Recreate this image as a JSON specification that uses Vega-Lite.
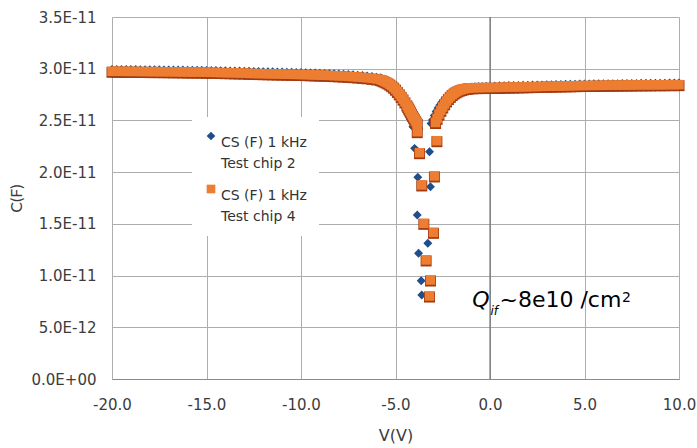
{
"$schema":"https://vega.github.io/schema/vega-lite/v6.json",
"width":567,"height":362,
"autosize":{"type":"none"},
"padding":{"left":112,"top":17,"right":18,"bottom":69},
"background":"white",
"config":{"view":{"stroke":null},"font":"DejaVu Sans","style":{"guide-label":{"lineHeight":21}}},
"data":{"values":[
{"s":"chip2","v":-20,"c":2.993e-11},{"s":"chip2","v":-19.75,"c":2.993e-11},{"s":"chip2","v":-19.5,"c":2.993e-11},{"s":"chip2","v":-19.25,"c":2.992e-11},{"s":"chip2","v":-19,"c":2.992e-11},{"s":"chip2","v":-18.75,"c":2.992e-11},{"s":"chip2","v":-18.5,"c":2.991e-11},{"s":"chip2","v":-18.25,"c":2.991e-11},{"s":"chip2","v":-18,"c":2.99e-11},{"s":"chip2","v":-17.75,"c":2.99e-11},{"s":"chip2","v":-17.5,"c":2.99e-11},{"s":"chip2","v":-17.25,"c":2.989e-11},{"s":"chip2","v":-17,"c":2.989e-11},{"s":"chip2","v":-16.75,"c":2.988e-11},{"s":"chip2","v":-16.5,"c":2.988e-11},{"s":"chip2","v":-16.25,"c":2.987e-11},{"s":"chip2","v":-16,"c":2.986e-11},{"s":"chip2","v":-15.75,"c":2.986e-11},{"s":"chip2","v":-15.5,"c":2.985e-11},{"s":"chip2","v":-15.25,"c":2.985e-11},{"s":"chip2","v":-15,"c":2.984e-11},{"s":"chip2","v":-14.75,"c":2.983e-11},{"s":"chip2","v":-14.5,"c":2.982e-11},{"s":"chip2","v":-14.25,"c":2.981e-11},{"s":"chip2","v":-14,"c":2.98e-11},{"s":"chip2","v":-13.75,"c":2.979e-11},{"s":"chip2","v":-13.5,"c":2.978e-11},{"s":"chip2","v":-13.25,"c":2.977e-11},{"s":"chip2","v":-13,"c":2.976e-11},{"s":"chip2","v":-12.75,"c":2.975e-11},{"s":"chip2","v":-12.5,"c":2.974e-11},{"s":"chip2","v":-12.25,"c":2.973e-11},{"s":"chip2","v":-12,"c":2.972e-11},{"s":"chip2","v":-11.75,"c":2.971e-11},{"s":"chip2","v":-11.5,"c":2.97e-11},{"s":"chip2","v":-11.25,"c":2.969e-11},{"s":"chip2","v":-11,"c":2.968e-11},{"s":"chip2","v":-10.75,"c":2.967e-11},{"s":"chip2","v":-10.5,"c":2.965e-11},{"s":"chip2","v":-10.25,"c":2.964e-11},{"s":"chip2","v":-10,"c":2.963e-11},{"s":"chip2","v":-9.75,"c":2.962e-11},{"s":"chip2","v":-9.5,"c":2.96e-11},{"s":"chip2","v":-9.25,"c":2.959e-11},{"s":"chip2","v":-9,"c":2.957e-11},{"s":"chip2","v":-8.75,"c":2.955e-11},{"s":"chip2","v":-8.5,"c":2.953e-11},{"s":"chip2","v":-8.25,"c":2.951e-11},{"s":"chip2","v":-8,"c":2.949e-11},{"s":"chip2","v":-7.75,"c":2.947e-11},{"s":"chip2","v":-7.5,"c":2.944e-11},{"s":"chip2","v":-7.25,"c":2.941e-11},{"s":"chip2","v":-7,"c":2.938e-11},{"s":"chip2","v":-6.75,"c":2.934e-11},{"s":"chip2","v":-6.5,"c":2.93e-11},{"s":"chip2","v":-6.25,"c":2.925e-11},{"s":"chip2","v":-6,"c":2.918e-11},
{"s":"chip2","v":-5.8,"c":2.912e-11},{"s":"chip2","v":-5.7,"c":2.904e-11},{"s":"chip2","v":-5.6,"c":2.894e-11},{"s":"chip2","v":-5.5,"c":2.883e-11},{"s":"chip2","v":-5.4,"c":2.87e-11},{"s":"chip2","v":-5.3,"c":2.855e-11},{"s":"chip2","v":-5.2,"c":2.838e-11},{"s":"chip2","v":-5.1,"c":2.818e-11},{"s":"chip2","v":-5.0,"c":2.795e-11},{"s":"chip2","v":-4.9,"c":2.77e-11},{"s":"chip2","v":-4.8,"c":2.743e-11},{"s":"chip2","v":-4.7,"c":2.714e-11},{"s":"chip2","v":-4.6,"c":2.683e-11},{"s":"chip2","v":-4.55,"c":2.666e-11},{"s":"chip2","v":-4.5,"c":2.649e-11},{"s":"chip2","v":-4.45,"c":2.631e-11},{"s":"chip2","v":-4.4,"c":2.612e-11},{"s":"chip2","v":-4.35,"c":2.593e-11},{"s":"chip2","v":-4.3,"c":2.573e-11},{"s":"chip2","v":-4.25,"c":2.553e-11},{"s":"chip2","v":-4.2,"c":2.532e-11},{"s":"chip2","v":-4.15,"c":2.511e-11},{"s":"chip2","v":-4.1,"c":2.49e-11},
{"s":"chip2","v":-4.08,"c":2.439e-11},{"s":"chip2","v":-3.99,"c":2.23e-11},{"s":"chip2","v":-3.82,"c":1.95e-11},{"s":"chip2","v":-3.85,"c":1.586e-11},{"s":"chip2","v":-3.78,"c":1.215e-11},{"s":"chip2","v":-3.64,"c":0.95e-11},{"s":"chip2","v":-3.61,"c":0.812e-11},{"s":"chip2","v":-3.29,"c":1.312e-11},{"s":"chip2","v":-3.15,"c":1.859e-11},{"s":"chip2","v":-3.2,"c":2.198e-11},
{"s":"chip2","v":-3.12,"c":2.47e-11},{"s":"chip2","v":-3.05,"c":2.505e-11},{"s":"chip2","v":-2.95,"c":2.548e-11},{"s":"chip2","v":-2.85,"c":2.587e-11},{"s":"chip2","v":-2.75,"c":2.62e-11},{"s":"chip2","v":-2.65,"c":2.65e-11},{"s":"chip2","v":-2.55,"c":2.676e-11},{"s":"chip2","v":-2.45,"c":2.698e-11},{"s":"chip2","v":-2.35,"c":2.718e-11},{"s":"chip2","v":-2.25,"c":2.735e-11},{"s":"chip2","v":-2.15,"c":2.75e-11},{"s":"chip2","v":-2.05,"c":2.763e-11},{"s":"chip2","v":-1.95,"c":2.774e-11},{"s":"chip2","v":-1.85,"c":2.783e-11},{"s":"chip2","v":-1.75,"c":2.791e-11},{"s":"chip2","v":-1.65,"c":2.798e-11},{"s":"chip2","v":-1.55,"c":2.804e-11},{"s":"chip2","v":-1.45,"c":2.809e-11},{"s":"chip2","v":-1.35,"c":2.813e-11},{"s":"chip2","v":-1.2,"c":2.818e-11},{"s":"chip2","v":-1.0,"c":2.823e-11},{"s":"chip2","v":-0.8,"c":2.826e-11},{"s":"chip2","v":-0.6,"c":2.828e-11},{"s":"chip2","v":-0.4,"c":2.829e-11},{"s":"chip2","v":-0.2,"c":2.83e-11},{"s":"chip2","v":0,"c":2.831e-11},
{"s":"chip2","v":0.25,"c":2.833e-11},{"s":"chip2","v":0.5,"c":2.835e-11},{"s":"chip2","v":0.75,"c":2.836e-11},{"s":"chip2","v":1,"c":2.837e-11},{"s":"chip2","v":1.25,"c":2.838e-11},{"s":"chip2","v":1.5,"c":2.839e-11},{"s":"chip2","v":1.75,"c":2.84e-11},{"s":"chip2","v":2,"c":2.841e-11},{"s":"chip2","v":2.25,"c":2.842e-11},{"s":"chip2","v":2.5,"c":2.843e-11},{"s":"chip2","v":2.75,"c":2.844e-11},{"s":"chip2","v":3,"c":2.845e-11},{"s":"chip2","v":3.25,"c":2.846e-11},{"s":"chip2","v":3.5,"c":2.847e-11},{"s":"chip2","v":3.75,"c":2.848e-11},{"s":"chip2","v":4,"c":2.849e-11},{"s":"chip2","v":4.25,"c":2.85e-11},{"s":"chip2","v":4.5,"c":2.851e-11},{"s":"chip2","v":4.75,"c":2.852e-11},{"s":"chip2","v":5,"c":2.853e-11},{"s":"chip2","v":5.25,"c":2.853e-11},{"s":"chip2","v":5.5,"c":2.854e-11},{"s":"chip2","v":5.75,"c":2.854e-11},{"s":"chip2","v":6,"c":2.855e-11},{"s":"chip2","v":6.25,"c":2.855e-11},{"s":"chip2","v":6.5,"c":2.856e-11},{"s":"chip2","v":6.75,"c":2.856e-11},{"s":"chip2","v":7,"c":2.857e-11},{"s":"chip2","v":7.25,"c":2.857e-11},{"s":"chip2","v":7.5,"c":2.858e-11},{"s":"chip2","v":7.75,"c":2.858e-11},{"s":"chip2","v":8,"c":2.859e-11},{"s":"chip2","v":8.25,"c":2.859e-11},{"s":"chip2","v":8.5,"c":2.859e-11},{"s":"chip2","v":8.75,"c":2.86e-11},{"s":"chip2","v":9,"c":2.86e-11},{"s":"chip2","v":9.25,"c":2.86e-11},{"s":"chip2","v":9.5,"c":2.861e-11},{"s":"chip2","v":9.75,"c":2.861e-11},{"s":"chip2","v":10,"c":2.861e-11},
{"s":"chip4","v":-20,"c":2.975e-11},{"s":"chip4","v":-19.75,"c":2.975e-11},{"s":"chip4","v":-19.5,"c":2.975e-11},{"s":"chip4","v":-19.25,"c":2.974e-11},{"s":"chip4","v":-19,"c":2.974e-11},{"s":"chip4","v":-18.75,"c":2.974e-11},{"s":"chip4","v":-18.5,"c":2.973e-11},{"s":"chip4","v":-18.25,"c":2.973e-11},{"s":"chip4","v":-18,"c":2.972e-11},{"s":"chip4","v":-17.75,"c":2.972e-11},{"s":"chip4","v":-17.5,"c":2.972e-11},{"s":"chip4","v":-17.25,"c":2.971e-11},{"s":"chip4","v":-17,"c":2.971e-11},{"s":"chip4","v":-16.75,"c":2.97e-11},{"s":"chip4","v":-16.5,"c":2.97e-11},{"s":"chip4","v":-16.25,"c":2.969e-11},{"s":"chip4","v":-16,"c":2.968e-11},{"s":"chip4","v":-15.75,"c":2.968e-11},{"s":"chip4","v":-15.5,"c":2.967e-11},{"s":"chip4","v":-15.25,"c":2.967e-11},{"s":"chip4","v":-15,"c":2.966e-11},{"s":"chip4","v":-14.75,"c":2.965e-11},{"s":"chip4","v":-14.5,"c":2.964e-11},{"s":"chip4","v":-14.25,"c":2.963e-11},{"s":"chip4","v":-14,"c":2.962e-11},{"s":"chip4","v":-13.75,"c":2.961e-11},{"s":"chip4","v":-13.5,"c":2.96e-11},{"s":"chip4","v":-13.25,"c":2.959e-11},{"s":"chip4","v":-13,"c":2.958e-11},{"s":"chip4","v":-12.75,"c":2.955e-11},{"s":"chip4","v":-12.5,"c":2.954e-11},{"s":"chip4","v":-12.25,"c":2.953e-11},{"s":"chip4","v":-12,"c":2.952e-11},{"s":"chip4","v":-11.75,"c":2.951e-11},{"s":"chip4","v":-11.5,"c":2.95e-11},{"s":"chip4","v":-11.25,"c":2.949e-11},{"s":"chip4","v":-11,"c":2.948e-11},{"s":"chip4","v":-10.75,"c":2.947e-11},{"s":"chip4","v":-10.5,"c":2.946e-11},{"s":"chip4","v":-10.25,"c":2.945e-11},{"s":"chip4","v":-10,"c":2.944e-11},{"s":"chip4","v":-9.75,"c":2.943e-11},{"s":"chip4","v":-9.5,"c":2.941e-11},{"s":"chip4","v":-9.25,"c":2.94e-11},{"s":"chip4","v":-9,"c":2.938e-11},{"s":"chip4","v":-8.75,"c":2.937e-11},{"s":"chip4","v":-8.5,"c":2.935e-11},{"s":"chip4","v":-8.25,"c":2.933e-11},{"s":"chip4","v":-8,"c":2.931e-11},{"s":"chip4","v":-7.75,"c":2.929e-11},{"s":"chip4","v":-7.5,"c":2.926e-11},{"s":"chip4","v":-7.25,"c":2.923e-11},{"s":"chip4","v":-7,"c":2.92e-11},{"s":"chip4","v":-6.75,"c":2.916e-11},{"s":"chip4","v":-6.5,"c":2.912e-11},{"s":"chip4","v":-6.25,"c":2.907e-11},{"s":"chip4","v":-6,"c":2.901e-11},
{"s":"chip4","v":-5.8,"c":2.895e-11},{"s":"chip4","v":-5.7,"c":2.888e-11},{"s":"chip4","v":-5.6,"c":2.88e-11},{"s":"chip4","v":-5.5,"c":2.871e-11},{"s":"chip4","v":-5.4,"c":2.862e-11},{"s":"chip4","v":-5.3,"c":2.85e-11},{"s":"chip4","v":-5.2,"c":2.836e-11},{"s":"chip4","v":-5.1,"c":2.821e-11},{"s":"chip4","v":-5.0,"c":2.802e-11},{"s":"chip4","v":-4.9,"c":2.78e-11},{"s":"chip4","v":-4.8,"c":2.757e-11},{"s":"chip4","v":-4.7,"c":2.732e-11},{"s":"chip4","v":-4.6,"c":2.706e-11},{"s":"chip4","v":-4.5,"c":2.679e-11},{"s":"chip4","v":-4.4,"c":2.65e-11},{"s":"chip4","v":-4.35,"c":2.634e-11},{"s":"chip4","v":-4.3,"c":2.617e-11},{"s":"chip4","v":-4.25,"c":2.6e-11},{"s":"chip4","v":-4.2,"c":2.583e-11},{"s":"chip4","v":-4.15,"c":2.566e-11},{"s":"chip4","v":-4.1,"c":2.548e-11},{"s":"chip4","v":-4.05,"c":2.532e-11},{"s":"chip4","v":-4.0,"c":2.516e-11},{"s":"chip4","v":-3.95,"c":2.5e-11},{"s":"chip4","v":-3.9,"c":2.485e-11},{"s":"chip4","v":-3.85,"c":2.471e-11},
{"s":"chip4","v":-3.85,"c":2.391e-11},{"s":"chip4","v":-3.73,"c":2.188e-11},{"s":"chip4","v":-3.61,"c":1.876e-11},{"s":"chip4","v":-3.5,"c":1.505e-11},{"s":"chip4","v":-3.38,"c":1.151e-11},{"s":"chip4","v":-3.2,"c":0.802e-11},{"s":"chip4","v":-3.15,"c":0.957e-11},{"s":"chip4","v":-2.99,"c":1.418e-11},{"s":"chip4","v":-2.94,"c":1.963e-11},{"s":"chip4","v":-2.81,"c":2.304e-11},
{"s":"chip4","v":-2.88,"c":2.48e-11},{"s":"chip4","v":-2.8,"c":2.52e-11},{"s":"chip4","v":-2.7,"c":2.562e-11},{"s":"chip4","v":-2.6,"c":2.598e-11},{"s":"chip4","v":-2.5,"c":2.63e-11},{"s":"chip4","v":-2.4,"c":2.66e-11},{"s":"chip4","v":-2.3,"c":2.688e-11},{"s":"chip4","v":-2.2,"c":2.712e-11},{"s":"chip4","v":-2.1,"c":2.732e-11},{"s":"chip4","v":-2.0,"c":2.75e-11},{"s":"chip4","v":-1.9,"c":2.764e-11},{"s":"chip4","v":-1.8,"c":2.776e-11},{"s":"chip4","v":-1.7,"c":2.786e-11},{"s":"chip4","v":-1.6,"c":2.794e-11},{"s":"chip4","v":-1.5,"c":2.8e-11},{"s":"chip4","v":-1.4,"c":2.805e-11},{"s":"chip4","v":-1.3,"c":2.809e-11},{"s":"chip4","v":-1.2,"c":2.812e-11},{"s":"chip4","v":-1.1,"c":2.814e-11},{"s":"chip4","v":-0.9,"c":2.816e-11},{"s":"chip4","v":-0.7,"c":2.817e-11},{"s":"chip4","v":-0.5,"c":2.818e-11},{"s":"chip4","v":-0.25,"c":2.818e-11},{"s":"chip4","v":0,"c":2.819e-11},
{"s":"chip4","v":0.25,"c":2.819e-11},{"s":"chip4","v":0.5,"c":2.82e-11},{"s":"chip4","v":0.75,"c":2.821e-11},{"s":"chip4","v":1,"c":2.822e-11},{"s":"chip4","v":1.25,"c":2.823e-11},{"s":"chip4","v":1.5,"c":2.824e-11},{"s":"chip4","v":1.75,"c":2.825e-11},{"s":"chip4","v":2,"c":2.826e-11},{"s":"chip4","v":2.25,"c":2.827e-11},{"s":"chip4","v":2.5,"c":2.828e-11},{"s":"chip4","v":2.75,"c":2.829e-11},{"s":"chip4","v":3,"c":2.83e-11},{"s":"chip4","v":3.25,"c":2.831e-11},{"s":"chip4","v":3.5,"c":2.832e-11},{"s":"chip4","v":3.75,"c":2.833e-11},{"s":"chip4","v":4,"c":2.834e-11},{"s":"chip4","v":4.25,"c":2.835e-11},{"s":"chip4","v":4.5,"c":2.836e-11},{"s":"chip4","v":4.75,"c":2.837e-11},{"s":"chip4","v":5,"c":2.838e-11},{"s":"chip4","v":5.25,"c":2.838e-11},{"s":"chip4","v":5.5,"c":2.839e-11},{"s":"chip4","v":5.75,"c":2.839e-11},{"s":"chip4","v":6,"c":2.84e-11},{"s":"chip4","v":6.25,"c":2.84e-11},{"s":"chip4","v":6.5,"c":2.841e-11},{"s":"chip4","v":6.75,"c":2.841e-11},{"s":"chip4","v":7,"c":2.842e-11},{"s":"chip4","v":7.25,"c":2.842e-11},{"s":"chip4","v":7.5,"c":2.843e-11},{"s":"chip4","v":7.75,"c":2.843e-11},{"s":"chip4","v":8,"c":2.844e-11},{"s":"chip4","v":8.25,"c":2.844e-11},{"s":"chip4","v":8.5,"c":2.844e-11},{"s":"chip4","v":8.75,"c":2.845e-11},{"s":"chip4","v":9,"c":2.845e-11},{"s":"chip4","v":9.25,"c":2.845e-11},{"s":"chip4","v":9.5,"c":2.846e-11},{"s":"chip4","v":9.75,"c":2.846e-11},{"s":"chip4","v":10,"c":2.846e-11}
]},
"layer":[
{"data":{"values":[{"z":0}]},
 "mark":{"type":"rule","color":"#5c5c5c","strokeWidth":1},
 "encoding":{"x":{"field":"z","type":"quantitative"}}},
{"transform":[{"filter":"datum.s == 'chip2'"}],
 "mark":{"type":"point","filled":true,"size":80,"opacity":1,"strokeWidth":0},
 "encoding":{
  "x":{"field":"v","type":"quantitative","scale":{"domain":[-20,10],"nice":false,"zero":false},
   "axis":{"values":[-20,-15,-10,-5,0,5,10],"labelExpr":"(datum.value < 0 ? '-' : '') + format(abs(datum.value), '.1f')","title":"V(V)","grid":true,"gridColor":"#adadad","gridWidth":1,"domain":true,"domainColor":"#8a8a8a","domainWidth":1.2,"ticks":false,"tickSize":0,"labelPadding":18,"labelFont":"DejaVu Sans","labelFontSize":15,"labelColor":"#3c3c3c","labelFlush":false,"labelOverlap":false,"titleFont":"DejaVu Sans","titleFontSize":16,"titleFontWeight":"normal","titleColor":"#3c3c3c","titleY":56,"titleBaseline":"middle"}},
  "y":{"field":"c","type":"quantitative","scale":{"domain":[0,3.5e-11],"nice":false,"zero":true},
   "axis":{"values":[0,5e-12,1e-11,1.5e-11,2e-11,2.5e-11,3e-11,3.5e-11],"labelExpr":"datum.value > 9.9e-12 ? format(datum.value*1e11,'.1f') + 'E-11' : (datum.value > 0 ? format(datum.value*1e12,'.1f') + 'E-12' : '0.0E+00')","title":"C(F)","grid":true,"gridColor":"#adadad","gridWidth":1,"domain":false,"ticks":false,"tickSize":0,"labelPadding":16,"labelFont":"DejaVu Sans","labelFontSize":15,"labelColor":"#3c3c3c","labelFlush":false,"labelOverlap":false,"titleFont":"Lato","titleFontSize":16,"titleFontWeight":"normal","titleColor":"#3c3c3c","titleX":-96,"titleY":181,"titleAngle":-90,"titleBaseline":"middle","titleAlign":"center"}},
  "color":{"field":"s","type":"nominal","scale":{"domain":["chip2","chip4"],"range":["#1f4e8c","#ed7d31"]},
   "legend":{"title":null,"orient":"none","legendX":80,"legendY":100,"direction":"vertical","padding":12,"fillColor":"white","labelFont":"DejaVu Sans","labelFontSize":14,"labelColor":"#333333","labelLimit":300,"labelOffset":3,"symbolSize":75,"rowPadding":11,"labelBaseline":"top",
    "labelExpr":"datum.value == 'chip2' ? ['CS (F) 1 kHz','Test chip 2'] : ['CS (F) 1 kHz','Test chip 4']",
    "encode":{"symbols":{"update":{"stroke":{"signal":"datum.value == 'chip4' ? '#a83d12' : '#1f4e8c'"},"strokeWidth":{"value":1}}}}}},
  "shape":{"field":"s","type":"nominal","scale":{"domain":["chip2","chip4"],"range":["diamond","square"]}}
 }},
{"transform":[{"filter":"datum.s == 'chip4'"}],
 "mark":{"type":"point","shape":"square","filled":true,"size":121,"opacity":1,"color":"#a13a12","strokeWidth":0,"yOffset":1},
 "encoding":{"x":{"field":"v","type":"quantitative"},"y":{"field":"c","type":"quantitative"}}},
{"transform":[{"filter":"datum.s == 'chip4'"}],
 "mark":{"type":"point","filled":true,"size":90,"opacity":1,"strokeWidth":0},
 "encoding":{"x":{"field":"v","type":"quantitative"},"y":{"field":"c","type":"quantitative"},
  "color":{"field":"s","type":"nominal"},"shape":{"field":"s","type":"nominal"}}},
{"data":{"values":[{"t":"Q"}]},
 "mark":{"type":"text","font":"DejaVu Sans","fontStyle":"italic","fontSize":22,"align":"left","baseline":"alphabetic","color":"#000000"},
 "encoding":{"text":{"field":"t"},"x":{"datum":-0.94},"y":{"datum":6.93e-12}}},
{"data":{"values":[{"t":"if"}]},
 "mark":{"type":"text","font":"DejaVu Sans","fontStyle":"italic","fontSize":12,"align":"left","baseline":"alphabetic","color":"#000000"},
 "encoding":{"text":{"field":"t"},"x":{"datum":0.02},"y":{"datum":6.19e-12}}},
{"data":{"values":[{"t":"~8e10 /cm"}]},
 "mark":{"type":"text","font":"DejaVu Sans","fontSize":22,"align":"left","baseline":"alphabetic","color":"#000000"},
 "encoding":{"text":{"field":"t"},"x":{"datum":0.5},"y":{"datum":6.93e-12}}},
{"data":{"values":[{"t":"2"}]},
 "mark":{"type":"text","font":"DejaVu Sans","fontSize":14,"align":"left","baseline":"alphabetic","color":"#000000"},
 "encoding":{"text":{"field":"t"},"x":{"datum":6.98},"y":{"datum":7.47e-12}}}
]
}
